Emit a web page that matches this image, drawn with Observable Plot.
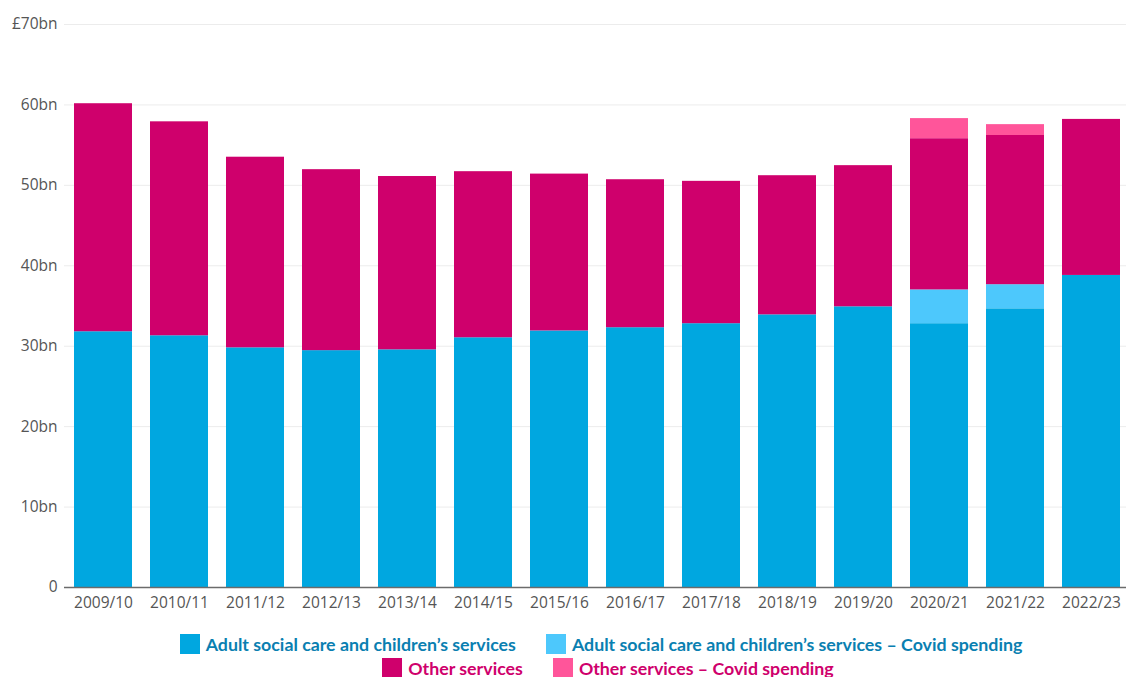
<!DOCTYPE html>
<html>
<head>
<meta charset="utf-8">
<script src="https://cdn.jsdelivr.net/npm/d3@7"></script>
<script src="https://cdn.jsdelivr.net/npm/@observablehq/plot@0.6"></script>
<style>
  html, body { margin: 0; padding: 0; background: #fff; }
  #chart { width: 1126px; overflow: hidden; }
  .legend { width: 1126px; font-family: Lato, "Open Sans", sans-serif; font-weight: 700; font-size: 17.8px; }
  .row { width: 100%; display: flex; justify-content: center; height: 24px; align-items: center; box-sizing: border-box; }
  .item { display: flex; align-items: center; margin: 0 15px; white-space: nowrap; }
  .sw { width: 20px; height: 20px; margin-right: 6px; display: inline-block; }
</style>
</head>
<body>
<div id="chart"></div>
<script>
const years = ["2009/10","2010/11","2011/12","2012/13","2013/14","2014/15","2015/16","2016/17","2017/18","2018/19","2019/20","2020/21","2021/22","2022/23"];
const adult      = [31.8, 31.3, 29.8, 29.45, 29.55, 31.05, 31.9, 32.3, 32.8, 33.9, 34.9, 32.8, 34.65, 38.8];
const adultCovid = [0, 0, 0, 0, 0, 0, 0, 0, 0, 0, 0, 4.2, 3.0, 0];
const other      = [28.35, 26.6, 23.7, 22.5, 21.55, 20.65, 19.5, 18.4, 17.7, 17.3, 17.55, 18.8, 18.55, 19.4];
const otherCovid = [0, 0, 0, 0, 0, 0, 0, 0, 0, 0, 0, 2.5, 1.35, 0];
const seriesNames = ["Adult social care and children’s services", "Adult social care and children’s services – Covid spending", "Other services", "Other services – Covid spending"];
const seriesColors = ["#00a7e0", "#4dc8fc", "#cf006c", "#ff559a"];
const legendTextColors = ["#0a7fb1", "#0a7fb1", "#cf006c", "#cf006c"];
const yTicks = [0, 10, 20, 30, 40, 50, 60, 70];

const seriesValues = [adult, adultCovid, other, otherCovid];
const rows = [];
seriesNames.forEach((s, i) => years.forEach((y, j) => rows.push({year: y, series: s, value: seriesValues[i][j]})));

const fmtY = d => d === 70 ? "£70bn" : d === 0 ? "0" : d + "bn";

const chart = Plot.plot({
  width: 1126,
  height: 620,
  marginTop: 24,
  marginBottom: 33,
  marginLeft: 64,
  marginRight: -4,
  style: { fontFamily: "'Open Sans', sans-serif", fontSize: "15px", color: "#555", background: "#fff" },
  x: { domain: years, paddingInner: 0.237, paddingOuter: 0.118, label: null },
  y: { domain: [0, 70], label: null },
  color: { domain: seriesNames, range: seriesColors },
  marks: [
    Plot.gridY(yTicks, { stroke: "#ececec", strokeOpacity: 1, strokeWidth: 1 }),
    Plot.barY(rows, { x: "year", y: "value", fill: "series", order: seriesNames }),
    Plot.ruleY([0], { stroke: "#6b6b6b", strokeWidth: 1.5 }),
    Plot.axisX({ tickSize: 0, tickPadding: 9, fill: "#555", fontSize: 15.5, label: null }),
    Plot.axisY({ ticks: yTicks, tickSize: 0, tickPadding: 7, fill: "#555", fontSize: 15.5, label: null, tickFormat: fmtY })
  ]
});
document.getElementById("chart").appendChild(chart);

const legend = document.createElement("div");
legend.className = "legend";
legend.style.paddingTop = "12px";
const groups = [[0, 1], [2, 3]];
const rowShift = [76, 90];
groups.forEach((g, gi) => {
  const row = document.createElement("div");
  row.className = "row";
  row.style.paddingLeft = rowShift[gi] + "px";
  g.forEach(i => {
    const item = document.createElement("span");
    item.className = "item";
    const sw = document.createElement("span");
    sw.className = "sw";
    sw.style.background = seriesColors[i];
    const t = document.createElement("span");
    t.textContent = seriesNames[i];
    t.style.color = legendTextColors[i];
    item.appendChild(sw);
    item.appendChild(t);
    row.appendChild(item);
  });
  legend.appendChild(row);
});
document.body.appendChild(legend);
</script>
</body>
</html>
